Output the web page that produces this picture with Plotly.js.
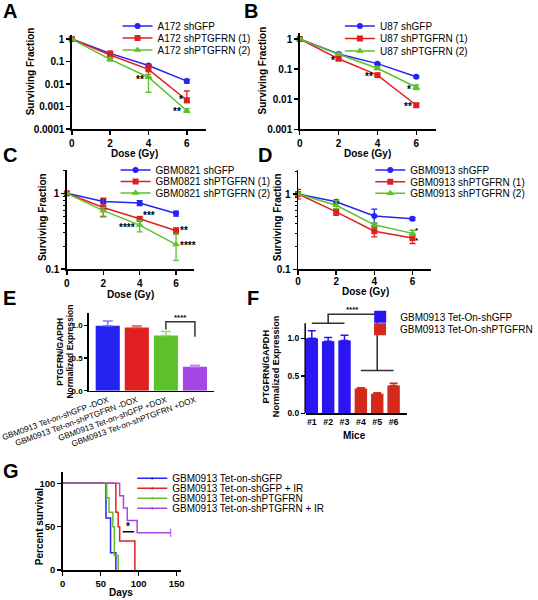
<!DOCTYPE html>
<html><head><meta charset="utf-8">
<script src="https://cdn.plot.ly/plotly-3.0.1.min.js"></script>
<style>html,body{margin:0;padding:0;background:#fff}#chart{width:538px;height:600px}</style>
</head><body><div id="chart"></div>
<script>
// ---------------- DATA ----------------
const dose = [0, 2, 4, 6];
const doseTicks = [0, 2, 4, 6];

// Panel A
const aNames = ["A172 shGFP", "A172 shPTGFRN (1)", "A172 shPTGFRN (2)"];
const aGFP = [1, 0.23, 0.067, 0.0135];
const aGFPHi = [1.04, 0.26, 0.075, 0.016];
const aGFPLo = [0.96, 0.2, 0.06, 0.011];
const aSh1 = [1, 0.195, 0.045, 0.0019];
const aSh1Hi = [1.25, 0.29, 0.07, 0.0049];
const aSh1Lo = [0.9, 0.14, 0.02, 0.0015];
const aSh2 = [1, 0.125, 0.02, 0.00065];
const aSh2Hi = [1.03, 0.15, 0.027, 0.0008];
const aSh2Lo = [0.97, 0.105, 0.0043, 0.00055];
const aTickVals = [0.0001, 0.001, 0.01, 0.1, 1];
const aTickText = ["0.0001", "0.001", "0.01", "0.1", "1"];
const aStarText = ["**", "*", "**"];
const aStarX = [3.56, 5.7, 5.5];
const aStarY = [0.0166, 0.00195, 0.00058];

// Panel B
const bNames = ["U87 shGFP", "U87 shPTGFRN (1)", "U87 shPTGFRN (2)"];
const bGFP = [1, 0.32, 0.152, 0.056];
const bGFPHi = [1.03, 0.34, 0.16, 0.06];
const bGFPLo = [0.97, 0.3, 0.145, 0.052];
const bSh1 = [1, 0.22, 0.063, 0.0063];
const bSh1Hi = [1.03, 0.235, 0.068, 0.0072];
const bSh1Lo = [0.97, 0.205, 0.058, 0.0056];
const bSh2 = [1, 0.31, 0.107, 0.025];
const bSh2Hi = [1.03, 0.33, 0.12, 0.03];
const bSh2Lo = [0.97, 0.29, 0.095, 0.021];
const bTickVals = [0.001, 0.01, 0.1, 1];
const bTickText = ["0.001", "0.01", "0.1", "1"];
const bStarText = ["*", "**", "*", "**"];
const bStarX = [1.71, 3.55, 5.65, 5.58];
const bStarY = [0.2, 0.055, 0.0214, 0.0056];

// Panel C
const cNames = ["GBM0821 shGFP", "GBM0821 shPTGFRN (1)", "GBM0821 shPTGFRN (2)"];
const cGFP = [1, 0.78, 0.745, 0.54];
const cGFPHi = [1.03, 0.83, 0.8, 0.58];
const cGFPLo = [0.97, 0.73, 0.69, 0.5];
const cSh1 = [1, 0.65, 0.46, 0.32];
const cSh1Hi = [1.02, 0.86, 0.48, 0.35];
const cSh1Lo = [0.98, 0.49, 0.44, 0.29];
const cSh2 = [1, 0.59, 0.38, 0.21];
const cSh2Hi = [1.02, 0.65, 0.44, 0.29];
const cSh2Lo = [0.98, 0.5, 0.31, 0.13];
const cdTickVals = [0.1, 1];
const cdTickText = ["0.1", "1"];
const cdMinorTicks = [0.2, 0.3, 0.4, 0.5, 0.6, 0.7, 0.8, 0.9, 2];
const cStarText = ["***", "****", "**", "****"];
const cStarX = [4.49, 3.32, 6.46, 6.68];
const cStarY = [0.506, 0.356, 0.32, 0.207];

// Panel D
const dNames = ["GBM0913 shGFP", "GBM0913 shPTGFRN (1)", "GBM0913 shPTGFRN (2)"];
const dGFP = [1, 0.79, 0.51, 0.47];
const dGFPHi = [1.04, 0.83, 0.63, 0.49];
const dGFPLo = [0.96, 0.75, 0.41, 0.45];
const dSh1 = [1, 0.58, 0.32, 0.26];
const dSh1Hi = [1.15, 0.64, 0.36, 0.29];
const dSh1Lo = [0.86, 0.52, 0.27, 0.22];
const dSh2 = [1, 0.71, 0.39, 0.30];
const dSh2Hi = [1.05, 0.82, 0.41, 0.33];
const dSh2Lo = [0.95, 0.64, 0.37, 0.28];
const dStarText = ["*<br>*"];
const dStarX = [6.26];
const dStarY = [0.277];

// Panel E
const eCats = ["GBM0913 Tet-on-shGFP -DOX", "GBM0913 Tet-on-shPTGFRN -DOX", "GBM0913 Tet-on-shGFP +DOX", "GBM0913 Tet-on-shPTGFRN +DOX"];
const eVals = [1.0, 0.97, 0.85, 0.37];
const eErr = [0.07, 0.03, 0.06, 0.02];
const eTickVals = [0, 0.5, 1];
const eTickText = ["0.0", "0.5", "1.0"];
const eBracketIdx = [2, 2, 3, 3];
const eBracketY = [0.94, 1.06, 1.06, 0.83];
const eStar = {text: "****", x: 2.5, y: 1.13};

// Panel F
const fCats = ["#1", "#2", "#3", "#4", "#5", "#6"];
const fNames = ["GBM0913 Tet-On-shGFP", "GBM0913 Tet-On-shPTGFRN"];
const fGFPCats = ["#1", "#2", "#3"];
const fGFPVals = [1.0, 0.96, 0.97];
const fGFPErr = [0.1, 0.05, 0.07];
const fShCats = ["#4", "#5", "#6"];
const fShVals = [0.33, 0.26, 0.37];
const fShErr = [0.01, 0.015, 0.03];
const fTickVals = [0, 0.5, 1];
const fTickText = ["0.0", "0.5", "1.0"];
const fAxisTop = 1.2;
const fBracketIdx = [0, 2, null, 1, 1, 4, 4, null, 3, 5];
const fBracketY = [1.2, 1.2, null, 1.2, 1.32, 1.32, 0.57, null, 0.57, 0.57];
const fStar = {text: "****", x: 2.5, y: 1.39};

// Panel G
const gNames = ["GBM0913 Tet-on-shGFP", "GBM0913 Tet-on-shGFP + IR", "GBM0913 Tet-on-shPTGFRN", "GBM0913 Tet-on-shPTGFRN + IR"];
const gDays = [
  [0, 57, 63, 70],
  [0, 70, 73, 75, 95],
  [0, 58, 61, 66, 68, 73],
  [0, 75, 80, 85, 98, 142]
];
const gSurv = [
  [100, 60, 20, 0],
  [100, 66.7, 50, 33.3, 0],
  [100, 83.3, 66.7, 50, 16.7, 0],
  [100, 85.7, 71.4, 57.1, 42.9, 42.9]
];
const gCensored = [[], [], [], [5]];
const gXTicks = [0, 50, 100, 150];
const gYTicks = [0, 50, 100];
const gSigX = [79, 94];
const gSigY = [44, 44];
const gStar = {text: "*", x: 86.5, y: 50};

// ---------------- STYLE ----------------
const W = 538, H = 600;
const FONT = "Liberation Sans, Arial, Helvetica, sans-serif";
const BLUE = "#2424f2", RED = "#e02020", GREEN = "#5cc12a", PURPLE = "#a348e6";
const px = v => v / W;
const py = v => 1 - v / H;

const traces = [];
const layout = {
  width: W, height: H, margin: {l: 0, r: 0, t: 0, b: 0},
  paper_bgcolor: "#fff", plot_bgcolor: "rgba(0,0,0,0)",
  barmode: "overlay", showlegend: true, font: {family: FONT, color: "#000"},
  annotations: [], shapes: []
};

let legendCount = 0;
function newLegend(textX, rowY, size) {
  legendCount++;
  const id = legendCount === 1 ? "legend" : "legend" + legendCount;
  layout[id] = {
    x: px(textX - 40), y: py(rowY), xanchor: "left", yanchor: "middle",
    bgcolor: "rgba(0,0,0,0)", borderwidth: 0, itemwidth: 30,
    font: {family: FONT, size: size || 10, color: "#000"}
  };
  return id;
}

const baseAx = {
  showline: true, linecolor: "#000", linewidth: 1.5, ticks: "outside", ticklen: 4,
  tickwidth: 1.5, tickcolor: "#000", showgrid: false, zeroline: false, fixedrange: true,
  tickfont: {family: FONT, size: 10, color: "#000", weight: "bold"}
};
function xax(p0, p1, anchor, extra) {
  return Object.assign({}, baseAx, {domain: [px(p0), px(p1)], anchor: anchor}, extra);
}
function yax(top, bottom, anchor, extra) {
  return Object.assign({}, baseAx, {domain: [py(bottom), py(top)], anchor: anchor}, extra);
}
const smallTick = size => ({family: FONT, size: size, color: "#000", weight: "bold"});

function survTrace(xa, ya, name, legend, y, hi, lo, color, symbol, size) {
  return {
    type: "scatter", mode: "lines+markers", x: dose, y: y, xaxis: xa, yaxis: ya,
    name: name, legend: legend, cliponaxis: false,
    line: {color: color, width: 1.5},
    marker: {color: color, symbol: symbol, size: size},
    error_y: {type: "data", symmetric: false,
      array: hi.map((h, i) => h - y[i]), arrayminus: lo.map((l, i) => y[i] - l),
      color: color, thickness: 1.3, width: 3}
  };
}

function panel(xa, ya, names, series, legX, legRows) {
  const cols = [BLUE, RED, GREEN];
  const syms = ["circle", "square", "triangle-up"];
  const sizes = [6, 6, 7];
  series.forEach((s, i) => {
    const lid = newLegend(legX, legRows[i]);
    traces.push(survTrace(xa, ya, names[i], lid, s[0], s[1], s[2], cols[i], syms[i], sizes[i]));
  });
}

function pAnn(text, x, y, size, extra) {
  return Object.assign({xref: "paper", yref: "paper", x: px(x), y: py(y), text: text,
    showarrow: false, xanchor: "center", yanchor: "middle",
    font: {family: FONT, size: size, color: "#000", weight: "bold"}}, extra || {});
}
function stars(xa, ya, texts, xs, ys, isLog, size) {
  texts.forEach((t, i) => {
    layout.annotations.push({xref: xa, yref: ya, x: xs[i], y: isLog ? Math.log10(ys[i]) : ys[i],
      text: t, showarrow: false, xanchor: "center", yanchor: "middle",
      font: {family: FONT, size: size || 10, color: "#000", weight: "bold"}});
  });
}

// ---------------- PANELS A-D ----------------
panel("x", "y", aNames, [[aGFP, aGFPHi, aGFPLo], [aSh1, aSh1Hi, aSh1Lo], [aSh2, aSh2Hi, aSh2Lo]], 160, [26, 38, 50]);
layout.xaxis = xax(73.3, 210.3, "y", {range: [0, 7], tickvals: doseTicks});
layout.yaxis = yax(35, 129, "x", {type: "log", range: [-4, 0.18], tickvals: aTickVals, ticktext: aTickText});
stars("x", "y", aStarText, aStarX, aStarY, true);

panel("x2", "y2", bNames, [[bGFP, bGFPHi, bGFPLo], [bSh1, bSh1Hi, bSh1Lo], [bSh2, bSh2Hi, bSh2Lo]], 387, [26, 38.5, 51]);
layout.xaxis2 = xax(306, 444.8, "y2", {range: [0, 7], tickvals: doseTicks});
layout.yaxis2 = yax(33, 129.3, "x2", {type: "log", range: [-3, 0.2], tickvals: bTickVals, ticktext: bTickText});
stars("x2", "y2", bStarText, bStarX, bStarY, true);

const minorLog = {tickvals: cdMinorTicks, ticks: "outside", ticklen: 2, tickwidth: 1, tickcolor: "#000", showgrid: false};
panel("x3", "y3", cNames, [[cGFP, cGFPHi, cGFPLo], [cSh1, cSh1Hi, cSh1Lo], [cSh2, cSh2Hi, cSh2Lo]], 158, [170, 181.5, 193]);
layout.xaxis3 = xax(68.3, 198.3, "y3", {range: [0, 7], tickvals: doseTicks});
layout.yaxis3 = yax(170, 269, "x3", {type: "log", range: [-1, 0.308], tickvals: cdTickVals, ticktext: cdTickText, minor: minorLog});
stars("x3", "y3", cStarText, cStarX, cStarY, true);

panel("x4", "y4", dNames, [[dGFP, dGFPHi, dGFPLo], [dSh1, dSh1Hi, dSh1Lo], [dSh2, dSh2Hi, dSh2Lo]], 418, [170, 181.7, 193.3]);
layout.xaxis4 = xax(304.3, 440.5, "y4", {range: [0, 7], tickvals: doseTicks, ticklabelstandoff: -2});
layout.yaxis4 = yax(170, 269.3, "x4", {type: "log", range: [-1, 0.319], tickvals: cdTickVals, ticktext: cdTickText, minor: minorLog});
stars("x4", "y4", dStarText, dStarX, dStarY, true, 8);

// ---------------- PANEL E ----------------
const eColors = [BLUE, RED, GREEN, PURPLE];
const eErrColors = ["#7a7aff", "#ec6a62", "#9ad86e", "#c88cf2"];
eCats.forEach((c, i) => {
  traces.push({type: "bar", x: [c], y: [eVals[i]], xaxis: "x5", yaxis: "y5", width: 0.83,
    showlegend: false, marker: {color: eColors[i], line: {color: eColors[i], width: 0}},
    error_y: {type: "data", symmetric: false, array: [eErr[i]], arrayminus: [0],
      color: eErrColors[i], thickness: 1.5, width: 5}});
});
traces.push({type: "scatter", mode: "lines", x: eBracketIdx.map(i => eCats[i]), y: eBracketY,
  xaxis: "x5", yaxis: "y5", showlegend: false, line: {color: "#333", width: 1.5}});
layout.xaxis5 = xax(90.7, 218.3, "y5", {type: "category", categoryorder: "array", categoryarray: eCats,
  range: [-0.65, 3.65], ticks: "", tickangle: -20,
  tickfont: {family: FONT, size: 8.2, color: "#000"}});
layout.yaxis5 = yax(313.3, 390.7, "x5", {range: [0, 1.19], tickvals: eTickVals, ticktext: eTickText,
  tickfont: smallTick(8), ticklen: 3});
layout.annotations.push({xref: "x5", yref: "y5", x: eStar.x, y: eStar.y, text: eStar.text, showarrow: false,
  font: {family: FONT, size: 8, color: "#000", weight: "bold"}});

// ---------------- PANEL F ----------------
const fLeg1 = newLegend(407.7, 316.7);
const fLeg2 = newLegend(407.7, 329.3);
traces.push({type: "bar", x: fGFPCats, y: fGFPVals, xaxis: "x6", yaxis: "y6", width: 0.76,
  name: fNames[0], legend: fLeg1, marker: {color: "#2a16f2"},
  error_y: {type: "data", symmetric: false, array: fGFPErr, arrayminus: fGFPErr.map(() => 0),
    color: "#2a16f2", thickness: 1.5, width: 4}});
traces.push({type: "bar", x: fShCats, y: fShVals, xaxis: "x6", yaxis: "y6", width: 0.76,
  name: fNames[1], legend: fLeg2, marker: {color: "#d4291d"},
  error_y: {type: "data", symmetric: false, array: fShErr, arrayminus: fShErr.map(() => 0),
    color: "#d4291d", thickness: 1.5, width: 4}});
traces.push({type: "scatter", mode: "lines", x: fBracketIdx.map(i => i === null ? null : fCats[i]), y: fBracketY,
  xaxis: "x6", yaxis: "y6", showlegend: false, connectgaps: false, line: {color: "#333", width: 1.6}});
// y axis of F spans 0..1.45 for the bracket; the spine itself is drawn only up to fAxisTop
const fPxPerUnit = (413.3 - 322.7) / 1.208;
const fTop = 413.3 - 1.45 * fPxPerUnit;
layout.xaxis6 = xax(312.3, 415, "y6", {type: "category", categoryorder: "array", categoryarray: fCats,
  range: [-0.36, 5.79], ticks: "", tickfont: smallTick(8.8)});
layout.yaxis6 = yax(fTop, 413.3, "x6", {range: [0, 1.45], tickvals: fTickVals, ticktext: fTickText,
  showline: false, tickfont: smallTick(8.5)});
layout.shapes.push({type: "line", xref: "paper", yref: "y6", x0: px(312.3) - 0.75 / W, x1: px(312.3) - 0.75 / W,
  y0: 0, y1: fAxisTop, line: {color: "#000", width: 1.5}});
layout.annotations.push({xref: "x6", yref: "y6", x: fStar.x, y: fStar.y, text: fStar.text, showarrow: false,
  font: {family: FONT, size: 8, color: "#000", weight: "bold"}});

// ---------------- PANEL G ----------------
const gColors = [BLUE, RED, GREEN, PURPLE];
const gLegRows = [478.3, 488.3, 498.3, 508.3];
gNames.forEach((n, i) => {
  const lid = newLegend(175, gLegRows[i]);
  traces.push({type: "scatter", mode: "lines+markers", x: gDays[i], y: gSurv[i], xaxis: "x7", yaxis: "y7",
    name: n, legend: lid, cliponaxis: false, line: {color: gColors[i], width: 1.5, shape: "hv"},
    marker: {color: gColors[i], symbol: "line-ns-open", line: {color: gColors[i], width: 1.5},
      size: gDays[i].map((d, k) => gCensored[i].includes(k) ? 6 : 0)}});
});
traces.push({type: "scatter", mode: "lines", x: gSigX, y: gSigY, xaxis: "x7", yaxis: "y7",
  showlegend: false, line: {color: "#000", width: 1.5}});
layout.xaxis7 = xax(64, 185, "y7", {range: [0, 156], tickvals: gXTicks, tickfont: smallTick(9.5)});
layout.yaxis7 = yax(472, 570, "x7", {range: [0, 113], tickvals: gYTicks, tickfont: smallTick(9.5)});
layout.annotations.push({xref: "x7", yref: "y7", x: gStar.x, y: gStar.y, text: gStar.text, showarrow: false,
  font: {family: FONT, size: 10, color: "#000", weight: "bold"}});

// ---------------- TITLES & LETTERS ----------------
const rot = {textangle: -90};
layout.annotations.push(
  pAnn("Surviving Fraction", 32, 71, 10, rot),
  pAnn("Dose (Gy)", 137, 154, 10),
  pAnn("Surviving Fraction", 268, 71, 10, rot),
  pAnn("Dose (Gy)", 375, 154, 10),
  pAnn("Surviving Fraction", 43, 217, 10, rot),
  pAnn("Dose (Gy)", 133, 294, 10),
  pAnn("Surviving Fraction", 283, 217, 10, rot),
  pAnn("Dose (Gy)", 373, 291, 10),
  pAnn("PTGFRN/GAPDH", 61, 352, 8.5, rot),
  pAnn("Normalized Expression", 71, 352, 8.5, rot),
  pAnn("PTGFRN/GAPDH", 272, 366, 9.2, rot),
  pAnn("Normalized Expression", 282, 366, 9.2, rot),
  pAnn("Mice", 362, 435, 10),
  pAnn("Percent survival", 40, 527, 10, rot),
  pAnn("Days", 124, 592, 10),
  pAnn("A", 10, 11, 20),
  pAnn("B", 256, 11, 20),
  pAnn("C", 10, 155, 20),
  pAnn("D", 271, 155, 20),
  pAnn("E", 10, 298, 20),
  pAnn("F", 258, 298, 20),
  pAnn("G", 11, 471, 20)
);

Plotly.newPlot("chart", traces, layout, {staticPlot: true, displayModeBar: false});
</script>
</body></html>
